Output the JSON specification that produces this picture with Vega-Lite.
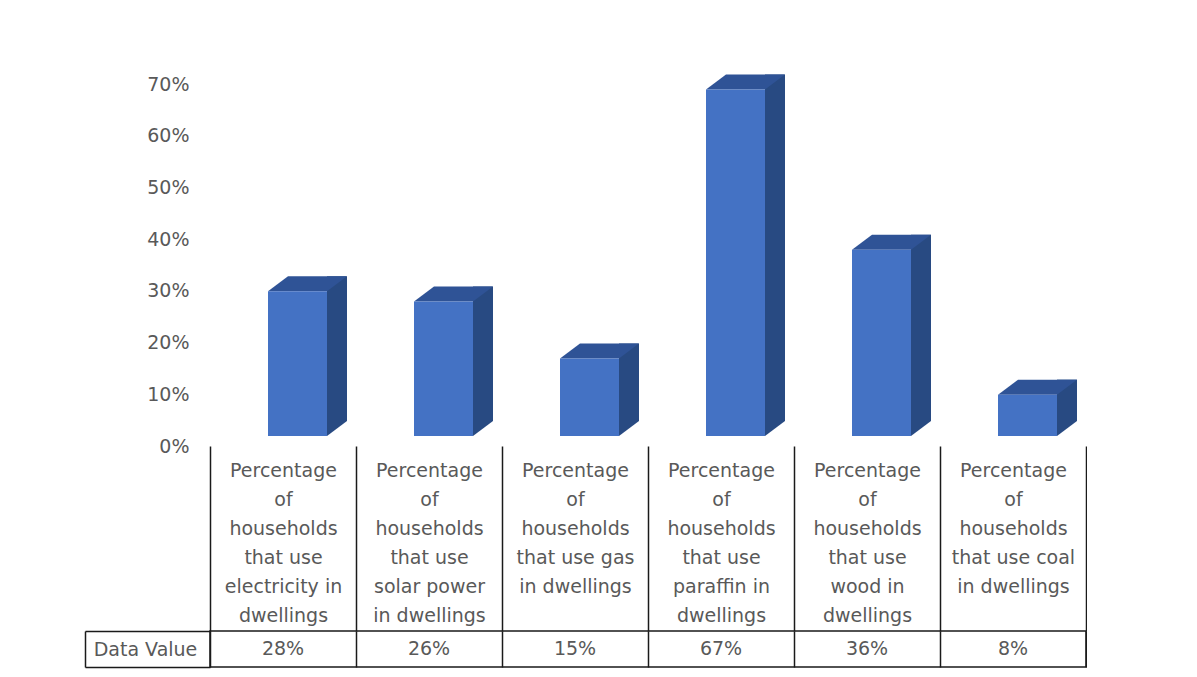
{
  "$schema": "https://vega.github.io/schema/vega-lite/v6.json",
  "padding": {"left": 83, "top": 74, "right": 0, "bottom": 0},
  "background": "white",
  "config": {"font": "DejaVu Sans", "view": {"stroke": null}, "axis": {"minExtent": 0}},
  "data": {"values": [
    {"category": "Percentage\nof\nhouseholds\nthat use\nelectricity in\ndwellings", "value": 0.28},
    {"category": "Percentage\nof\nhouseholds\nthat use\nsolar power\nin dwellings", "value": 0.26},
    {"category": "Percentage\nof\nhouseholds\nthat use gas\nin dwellings", "value": 0.15},
    {"category": "Percentage\nof\nhouseholds\nthat use\nparaffin in\ndwellings", "value": 0.67},
    {"category": "Percentage\nof\nhouseholds\nthat use\nwood in\ndwellings", "value": 0.36},
    {"category": "Percentage\nof\nhouseholds\nthat use coal\nin dwellings", "value": 0.08}
  ]},
  "bounds": "flush",
  "spacing": 185,
  "vconcat": [
    {
      "width": 876,
      "height": 362,
      "encoding": {
        "x": {"field": "category", "type": "nominal", "sort": null,
          "scale": {"paddingInner": 0, "paddingOuter": 0},
          "axis": {"orient": "bottom", "title": null, "domain": false, "ticks": true, "tickBand": "extent",
            "tickSize": 185, "tickColor": "#1a1a1a", "tickWidth": 1.5,
            "labelExpr": "isValid(datum.value) ? split(datum.value, '\\n') : ''", "labelAngle": 0, "labelBaseline": "top",
            "labelPadding": -170, "labelLineHeight": 29, "labelFontSize": 19, "labelColor": "#595959",
            "labelOverlap": false, "labelLimit": 0}},
        "y": {"field": "value", "type": "quantitative",
          "scale": {"domain": [0, 0.7], "nice": false},
          "axis": {"title": null, "values": [0, 0.1, 0.2, 0.3, 0.4, 0.5, 0.6, 0.7], "format": ".0%",
            "domain": false, "ticks": false, "tickSize": 0, "grid": false, "labelPadding": 21,
            "labelFontSize": 19, "labelColor": "#595959"}}
      },
      "layer": [
        {"mark": {"type": "bar", "width": 20, "xOffset": 54, "yOffset": -25, "y2Offset": -25, "color": "#284a82"},
         "encoding": {"y2": {"datum": 0}}},
        {"mark": {"type": "point", "shape": "M-15,-10L44,-10L64,-25L5,-25Z", "size": 4, "filled": true,
          "opacity": 1, "color": "#2f5396", "strokeWidth": 0}},
        {"mark": {"type": "point", "shape": "M44,-25L64,-25L44,-10Z", "size": 4, "filled": true,
          "opacity": 1, "color": "#284a82", "strokeWidth": 0},
         "encoding": {"y": {"datum": 0, "type": "quantitative"}}},
        {"mark": {"type": "bar", "width": 59, "xOffset": 14.5, "yOffset": -10, "y2Offset": -10, "color": "#4472c4"},
         "encoding": {"y2": {"datum": 0}}}
      ]
    },
    {
      "width": 876,
      "height": 36,
      "view": {"stroke": "#1a1a1a", "strokeWidth": 1.5},
      "mark": {"type": "text", "fontSize": 19, "color": "#595959"},
      "encoding": {
        "x": {"field": "category", "type": "nominal", "sort": null,
          "scale": {"paddingInner": 0, "paddingOuter": 0},
          "axis": {"orient": "bottom", "title": null, "labels": false, "ticks": false, "domain": false,
            "grid": true, "tickBand": "extent", "gridColor": "#1a1a1a", "gridWidth": 1.5, "gridOpacity": 1}},
        "y": {"datum": "Data Value", "type": "nominal",
          "scale": {"type": "band", "paddingInner": 0, "paddingOuter": 0},
          "axis": {"title": null, "offset": 125, "domain": true, "domainColor": "#1a1a1a", "domainWidth": 1.5,
            "ticks": true, "tickBand": "extent", "tickSize": -125, "tickColor": "#1a1a1a", "tickWidth": 1.5,
            "labelAlign": "center", "labelPadding": 65, "labelFontSize": 19, "labelColor": "#595959"}},
        "text": {"field": "value", "type": "quantitative", "format": ".0%"}
      }
    }
  ]
}
